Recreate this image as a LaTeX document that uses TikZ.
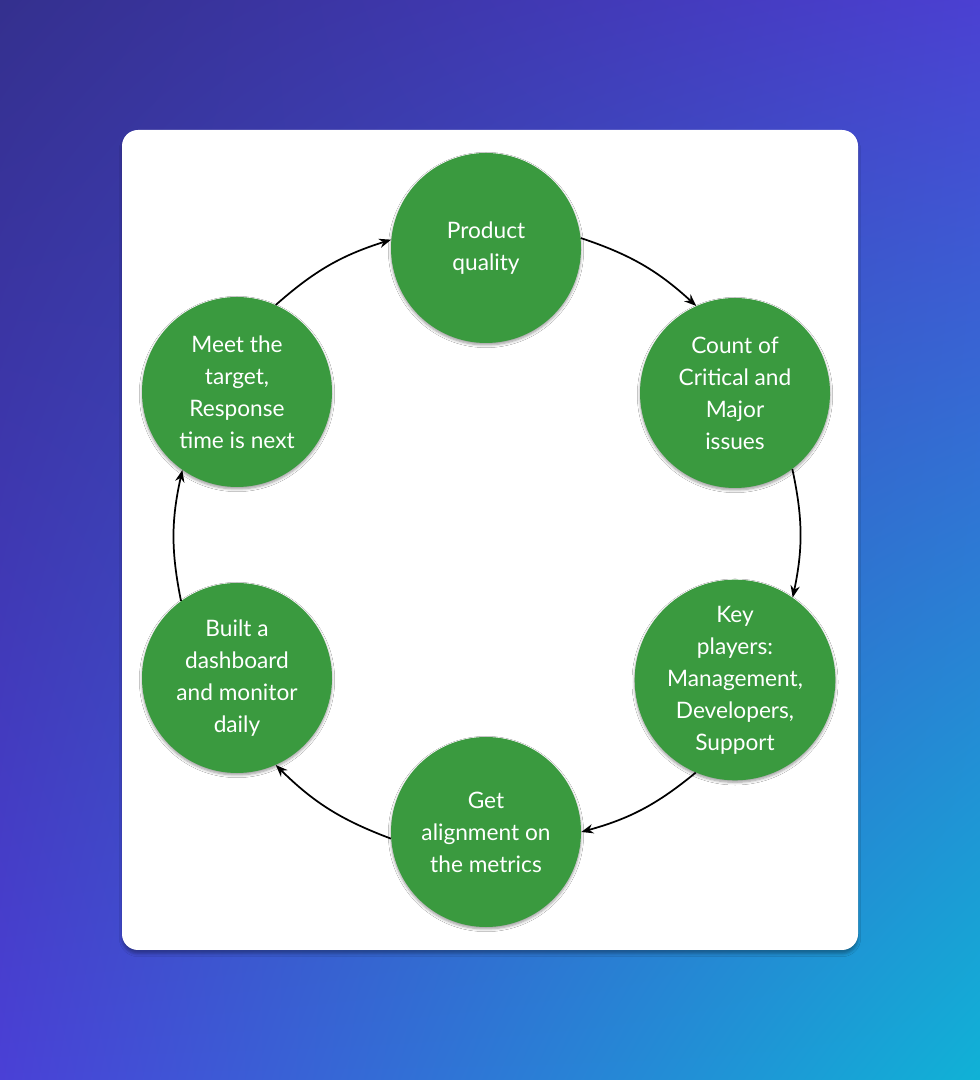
\documentclass[tikz,border=0pt]{standalone}
\usepackage{fontspec}
\setmainfont{Lato}
\usetikzlibrary{shadows.blur,arrows.meta,shadings}
\definecolor{tl}{HTML}{34308E}
\definecolor{tr}{HTML}{4B40D2}
\definecolor{bl}{HTML}{4A40D6}
\definecolor{br}{HTML}{10B2D6}
\definecolor{gr}{HTML}{3A9A3F}
\begin{document}
\begin{tikzpicture}[x=0.75pt,y=0.75pt,
  stage/.style={circle,fill=gr,minimum size=190*0.75pt,inner sep=0pt,text=white,align=center,
    font=\fontsize{17}{24}\selectfont,blur shadow={shadow blur steps=6,shadow xshift=0pt,shadow yshift=-1.5pt,shadow opacity=40}},
  arr/.style={-{Stealth[length=9pt,width=7pt]},line width=1.3pt,black}]
\useasboundingbox (0,0) rectangle (980,1080);
\shade[upper left=tl,upper right=tr,lower left=bl,lower right=br] (0,0) rectangle (980,1080);
\fill[white,rounded corners=12pt,blur shadow={shadow xshift=0pt,shadow yshift=-3pt,shadow opacity=30}] (122,130) rectangle (858,950);
\node[stage] (p) at (486,832) {Product\\quality};
\node[stage] (c) at (735,687) {Count of\\Critical and\\Major\\issues};
\node[stage] (k) at (735,400) {Key\\players:\\Management,\\Developers,\\Support};
\node[stage] (g) at (486,248) {Get\\alignment on\\the metrics};
\node[stage] (b) at (237,402) {Built a\\dashboard\\and monitor\\daily};
\node[stage] (m) at (237,688) {Meet the\\target,\\Response\\time is next};
\draw[arr] (p.6) to[bend left=12] (c.114);
\draw[arr] (c.-53) to[bend left=12] (k.55);
\draw[arr] (k.-113) to[bend left=12] (g.0);
\draw[arr] (g.184) to[bend left=12] (b.-66);
\draw[arr] (b.126) to[bend left=12] (m.-125);
\draw[arr] (m.66) to[bend left=12] (p.175);
\end{tikzpicture}
\end{document}
